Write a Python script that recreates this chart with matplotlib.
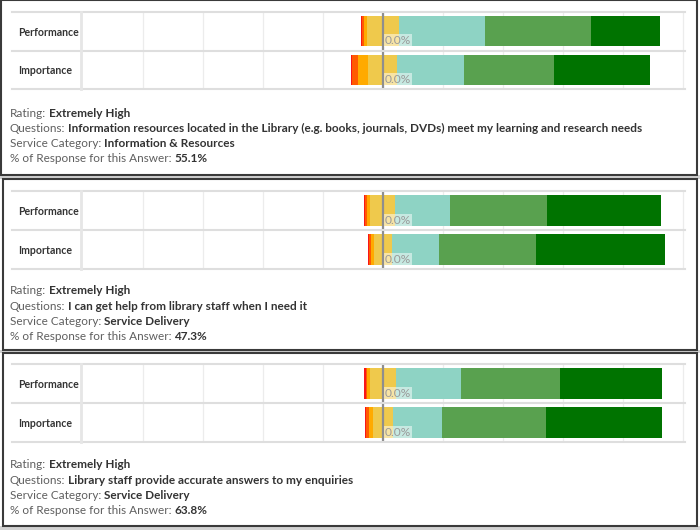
import matplotlib
matplotlib.use("Agg")
import matplotlib.pyplot as plt
from matplotlib import transforms
from matplotlib.lines import Line2D
from matplotlib.patches import Rectangle

plt.rcParams['font.family'] = ['Lato', 'DejaVu Sans']

# rating scale, left (low) to right (high)
ratings = ["Extremely Low", "Very Low", "Low", "Moderate", "High", "Very High", "Extremely High"]
colors = ["#f8161a", "#ff5a00", "#ffaa00", "#efc94c", "#8ed3c4", "#59a14f", "#007300"]
rows = ["Performance", "Importance"]

# % of responses per rating, one list per chart row
perf_1 = [0.55, 0.55, 0.9, 10.8, 28.6, 35.3, 23.0]
imp_1 = [0.55, 2.0, 3.3, 9.7, 22.1, 30.2, 31.8]
perf_2 = [0.45, 0.65, 1.2, 8.3, 18.2, 32.5, 37.9]
imp_2 = [0.45, 0.55, 1.1, 5.9, 15.9, 32.3, 42.8]
perf_3 = [0.35, 0.35, 1.1, 8.7, 21.6, 33.2, 33.8]
imp_3 = [0.45, 0.9, 1.3, 6.7, 16.2, 34.8, 38.7]

tip_rating = ["Extremely High", "Extremely High", "Extremely High"]
tip_question = ["Information resources located in the Library (e.g. books, journals, DVDs) meet my learning and research needs",
                "I can get help from library staff when I need it",
                "Library staff provide accurate answers to my enquiries"]
tip_category = ["Information & Resources", "Service Delivery", "Service Delivery"]
tip_share = ["55.1%", "47.3%", "63.8%"]

panels = [(perf_1, imp_1), (perf_2, imp_2), (perf_3, imp_3)]

W, H = 700, 530
fig = plt.figure(figsize=(7, 5.3), dpi=100)


def fx(x):
    return x / W


def fy(y):
    return 1 - y / H


# panel geometry in pixels (top-left origin)
boxes = [(1, 0, 697, 175), (3, 179, 697, 350), (3, 353, 697, 526)]
tables = [(12, 89), (191, 269), (364, 442)]
text_top = [113, 291, 465]

# grey strips of the dashboard peeking between the tooltips
for y0, y1 in [(175, 179), (350, 353), (526, 530)]:
    fig.patches.append(Rectangle((0, fy(y1)), 1, (y1 - y0) / H, transform=fig.transFigure,
                                 fc="#d2d2d2", ec="none", zorder=0))

for i, (perf, imp) in enumerate(panels):
    x0, y0, x1, y1 = boxes[i]
    fig.patches.append(Rectangle((fx(x0), fy(y1)), (x1 - x0) / W, (y1 - y0) / H,
                                 transform=fig.transFigure, fc="white", ec="#3a3a3a", lw=1.5, zorder=1))

    top, bot = tables[i]
    ax = fig.add_axes([fx(82), fy(bot), (685 - 82) / W, (bot - top) / H])
    ax.set_zorder(2)
    ax.patch.set_alpha(0)
    ax.set_xlim(-100.3, 100.7)
    ax.set_ylim(1.5, -0.5)
    ax.set_xticks(range(-80, 101, 20))
    ax.set_yticks([])
    ax.tick_params(length=0, labelbottom=False)
    ax.grid(axis="x", color="#ececec", lw=0.9)
    ax.set_axisbelow(True)
    for s in ax.spines.values():
        s.set_visible(False)

    for r, vals in enumerate([perf, imp]):
        left = -(vals[0] + vals[1] + vals[2] + vals[3] / 2)
        for v, c in zip(vals, colors):
            ax.barh(r, v, left=left, height=0.77, color=c, lw=0, zorder=2)
            left += v
        ax.text(0.7, r + 0.385, "0.0%", ha="left", va="bottom", fontsize=8.6, color="#9a9a9a", zorder=4,
                bbox=dict(fc="white", ec="none", alpha=0.5, pad=0.6))

    ax.axvline(0, color="#8e8e8e", lw=1.6, zorder=3)

    # table lines and row labels
    mid = (top + bot) / 2
    for yy in [top, mid, bot]:
        fig.lines.append(Line2D([fx(12), fx(685)], [fy(yy), fy(yy)], transform=fig.transFigure,
                                color="#dedede", lw=1.5, zorder=3))
    fig.lines.append(Line2D([fx(81), fx(81)], [fy(top), fy(bot)], transform=fig.transFigure,
                            color="#e6e6e6", lw=2, zorder=3))
    trans = transforms.blended_transform_factory(fig.transFigure, ax.transData)
    for r, name in enumerate(rows):
        ax.text(fx(18), r + 0.02, name, transform=trans, ha="left", va="center", fontsize=7.6,
                fontweight="bold", color="#333333")

    # tooltip text
    lines = [("Rating:", tip_rating[i]), ("Questions:", tip_question[i]),
             ("Service Category:", tip_category[i]), ("% of Response for this Answer:", tip_share[i])]
    for k, (lab, val) in enumerate(lines):
        t = fig.text(fx(10), fy(text_top[i] + k * 15.2), lab, ha="left", va="center",
                     fontsize=8.5, color="#5f5f5f", zorder=5)
        ax.annotate(val, xy=(1, 0.5), xycoords=t, xytext=(1.8, 0), textcoords="offset points",
                    ha="left", va="center", fontsize=8.5, fontweight="bold", color="#333333",
                    annotation_clip=False, zorder=5)

fig.savefig("out.png", dpi=100)
